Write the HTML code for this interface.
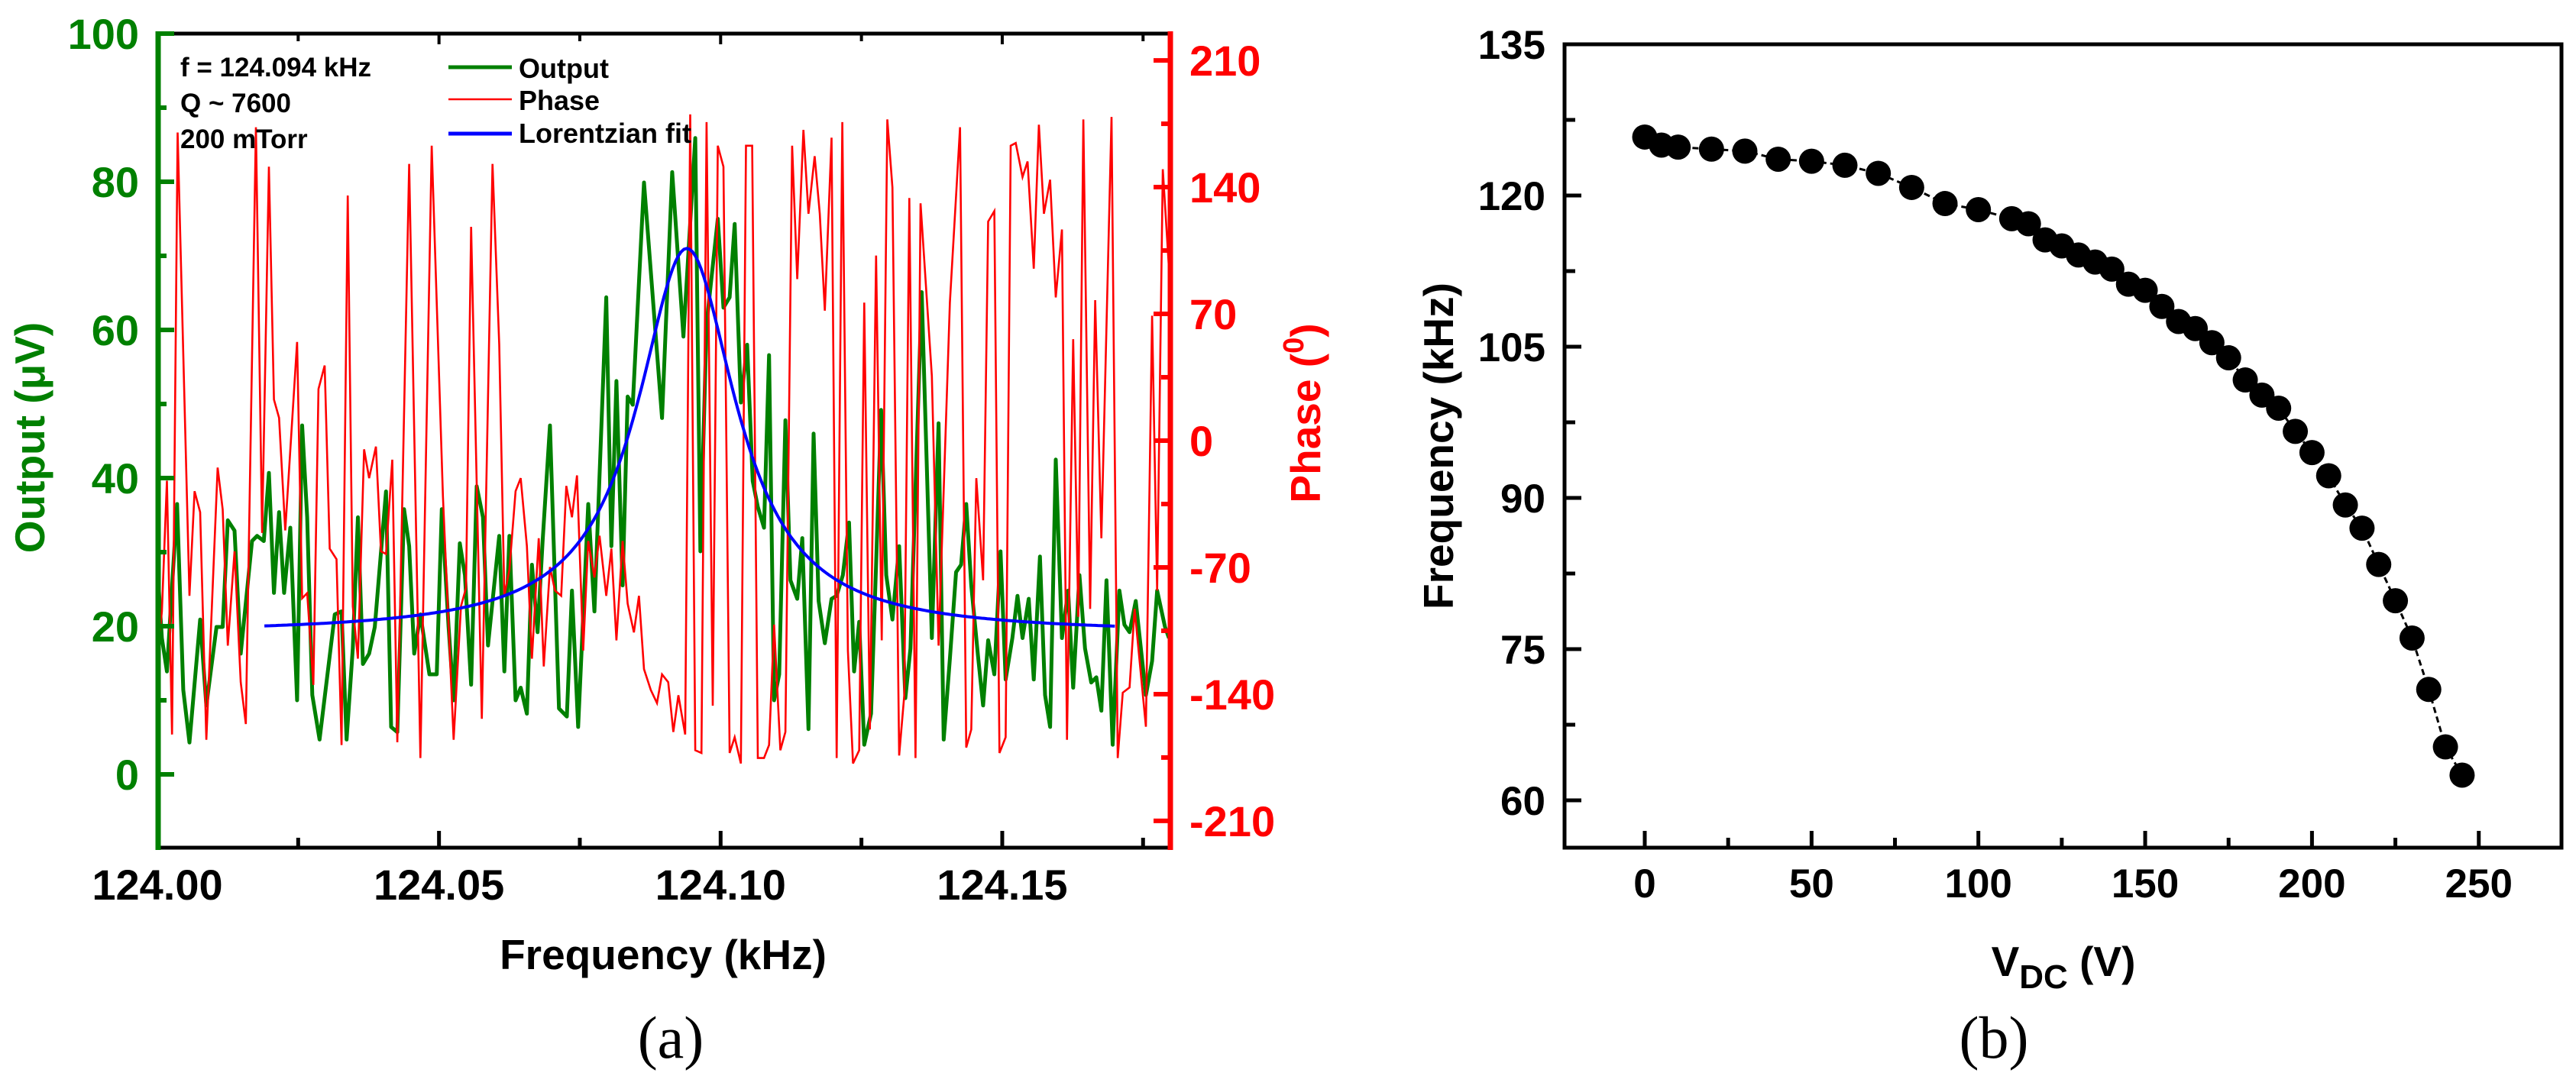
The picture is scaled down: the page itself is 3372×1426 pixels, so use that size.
<!DOCTYPE html>
<html><head><meta charset="utf-8">
<style>
html,body{margin:0;padding:0;background:#fff;}
svg{display:block;font-family:"Liberation Sans",Arial,sans-serif;}
</style></head>
<body>
<svg id="fig" width="3372" height="1426" viewBox="0 0 3372 1426" xmlns="http://www.w3.org/2000/svg">
  <defs>
    <clipPath id="clipA"><rect x="206" y="44" width="1326" height="1066"/></clipPath>
  </defs>
  <g id="panelA"></g>
  <g id="panelB"></g>
  <text x="878" y="1385" text-anchor="middle" font-family="Liberation Serif, serif" font-size="78">(a)</text>
  <text x="2610" y="1385" text-anchor="middle" font-family="Liberation Serif, serif" font-size="78">(b)</text>
</svg>
<script>
// ---------- Panel (a) data ----------
const outFreqOffsetHz = [0,0.8,1.7,3.5,4.6,5.7,7.6,8.7,10.5,11.6,12.5,13.7,14.8,16.8,17.7,18.9,19.8,20.7,21.6,22.5,23.6,24.8,25.7,26.6,27.5,28.8,31.5,32.7,33.6,34.7,35.6,36.5,37.6,38.6,40.6,41.5,42.6,43.8,44.7,45.6,46.7,48.3,49.6,50.5,51.7,52.6,53.7,54.6,55.7,56.7,57.8,58.7,
60.7,61.6,62.5,63.6,64.5,65.6,66.5,67.5,68.4,69.7,71.3,72.7,73.6,74.7,76.5,77.6,79.7,80.6,81.5,82.6,83.5,84.4,86.4,89.6,91.4,93.4,95.5,96.4,97.5,99.5,100.5,101.6,102.5,103.6,104.7,105.7,106.6,107.7,108.6,109.5,110.4,111.5,112.4,113.6,114.5,115.6,116.5,117.4,118.5,
119.7,120.6,121.7,122.8,123.7,124.6,125.5,126.7,127.6,128.5,129.4,130.5,131.7,132.8,133.7,135.7,137.5,138.7,139.6,140.7,141.8,142.7,143.6,144.5,145.7,146.6,147.5,148.6,149.7,150.6,151.8,152.7,153.6,154.7,155.6,156.7,157.6,158.5,159.5,160.6,161.7,162.6,163.7,164.7,165.8,166.7,167.6,168.5,169.6,170.8,171.7,172.6,173.7,175.5,176.6,177.5,178.9,179.6];
const outValues = [28,18.4,13.9,36.5,11.4,4.3,20.9,9.3,19.9,19.9,34.3,32.9,16.3,31.5,32.2,31.5,40.7,24.5,35.4,24.5,33.3,10.0,47.1,34.7,10.7,4.7,21.6,22.0,4.7,17.0,34.7,14.9,16.3,19.9,38.2,6.4,5.7,35.8,30.8,16.3,21.6,13.5,13.5,35.8,19.9,10.0,31.2,26.9,12.1,38.9,34.7,17.4,
32.2,13.9,32.2,10.0,11.7,8.2,28.3,19.2,31.5,47.1,8.9,7.8,24.8,6.4,36.5,22.0,64.4,30.8,53.1,25.5,51.0,49.9,79.9,48.1,81.3,59.1,85.9,30.1,60.8,75.0,63.0,64.4,74.3,50.2,58.0,39.6,36.1,33.3,56.6,10.0,13.5,47.8,26.2,23.7,31.9,6.1,46.0,23.4,17.7,
23.7,24.1,26.9,34.0,13.9,20.6,4.0,8.2,28.3,49.2,26.9,20.9,30.8,10.3,17.0,65.1,18.4,47.4,4.7,15.6,27.3,28.3,36.5,25.5,16.0,9.3,18.1,13.5,30.1,12.8,18.4,24.1,18.4,23.7,12.8,29.4,10.7,6.4,42.5,18.4,24.8,11.7,26.9,17.0,12.4,13.1,8.6,26.2,4.0,24.8,20.2,19.2,23.4,10.7,15.3,24.8,19.9,18.4];
const phaseFreqOffsetHz = [0,0.8,1.7,2.6,3.6,5.7,6.6,7.6,8.7,10.7,11.6,12.5,13.7,14.8,15.7,17.5,18.6,19.8,20.7,21.6,22.7,24.8,25.7,26.6,27.7,28.6,29.7,30.6,31.8,32.7,33.8,34.7,35.6,36.7,37.6,38.8,39.7,40.6,41.7,42.6,44.7,46.7,48.7,50.7,52.6,53.9,54.8,55.7,57.6,
59.5,60.7,61.6,62.5,63.6,64.5,65.6,66.5,67.7,68.6,69.7,70.6,71.7,72.6,73.6,74.5,75.6,76.5,77.6,78.5,79.7,80.6,81.5,82.6,83.5,84.6,85.5,86.4,87.6,88.7,89.6,90.7,91.6,92.5,93.7,94.6,95.5,96.6,97.5,98.6,99.5,100.5,101.6,102.5,103.6,104.5,105.6,106.6,107.7,108.6,109.5,110.6,111.5,112.7,113.6,114.7,115.6,116.7,117.6,118.5,119.7,
120.6,121.6,122.6,123.5,124.6,125.5,126.5,127.6,128.6,129.6,130.5,131.7,132.6,133.5,134.6,135.5,137.5,138.7,140.7,142.5,143.6,144.5,145.4,146.6,147.5,148.6,149.5,150.6,151.5,152.4,153.6,154.5,155.6,156.5,157.4,158.5,159.5,160.6,161.5,162.6,163.5,164.4,165.6,166.5,167.6,169.4,170.5,171.4,172.6,173.5,175.5,176.6,177.5,178.5,179.6];
const phaseValues = [-120,-94.4,-22.1,-162.3,170.2,-85.7,-27.9,-39.5,-165.2,-14.9,-38.0,-113.2,-61.1,-133.4,-156.5,173.1,-51.0,151.3,22.7,12.6,-49.6,54.5,-87.1,-84.2,-134.9,28.5,41.5,-59.7,-65.5,-168.1,135.4,-91.5,-120.4,-4.8,-20.7,-3.3,-61.1,-62.6,-10.5,-166.6,152.8,-175.3,162.9,-30.8,-165.2,-91.5,-81.3,118.1,-153.6,
152.8,53.0,-85.7,-71.3,-27.9,-20.7,-58.2,-120.4,-53.9,-124.7,-69.8,-82.8,-85.7,-25.0,-42.3,-19.2,-116.0,-55.4,-75.6,-52.5,-85.7,-59.7,-110.3,-55.4,-90.0,-105.9,-85.7,-126.2,-137.7,-144.9,-129.1,-133.4,-160.9,-140.6,-162.3,180.2,-171.0,-172.5,175.9,-146.4,162.9,151.3,-172.5,-163.8,-178.3,162.9,162.9,-175.3,-175.3,-168.1,-101.6,-171.0,-160.9,162.9,89.2,171.6,125.3,157.1,125.3,71.8,167.3,
-175.3,175.9,-116.0,-178.3,-171.0,76.2,-159.5,102.2,-110.3,177.4,139.8,-173.9,-140.6,134.0,-175.3,131.1,35.7,-113.2,76.2,173.1,-169.5,-159.5,-20.7,-77.1,121.0,126.8,-172.5,-163.8,162.9,164.4,145.6,154.2,95.0,174.5,125.3,144.1,79.1,116.6,-165.2,56.0,-97.3,177.4,-92.9,77.6,-53.9,178.8,-175.3,-139.2,-136.3,-92.9,-158.0,69.0,-82.8,149.9,95.0];
// Lorentzian fit parameters: centre kHz, HWHM kHz, amplitude, baseline, start/end kHz
const fitCenter = [124.094];
const fitHalfWidth = [0.0107];
const fitAmplitude = [52];
const fitBaseline = [19];
const fitRange = [124.019, 124.170];
const outTicks = [0,20,40,60,80,100];
const outMinorTicks = [10,30,50,70,90];
const freqTicks = [124.00,124.05,124.10,124.15];
const freqTickLabels = ["124.00","124.05","124.10","124.15"];
const freqMinorTicks = [124.025,124.075,124.125,124.175];
const phaseTicks = [-210,-140,-70,0,70,140,210];
const phaseMinorTicks = [-175,-105,-35,35,105,175];

// ---------- Panel (b) data ----------
const vdcValues = [0,5,10,20,30,40,50,60,70,80,90,100,110,115,120,125,130,135,140,145,150,155,160,165,170,175,180,185,190,195,200,205,210,215,220,225,230,235,240,245];
const resFreqValues = [125.8,125.0,124.8,124.6,124.4,123.6,123.4,123.0,122.2,120.8,119.2,118.6,117.7,117.2,115.6,115.0,114.1,113.4,112.7,111.2,110.6,109.0,107.5,106.8,105.4,103.9,101.7,100.2,98.9,96.6,94.5,92.2,89.3,87.0,83.4,79.8,76.1,71.0,65.3,62.5];
const vdcTicks = [0,50,100,150,200,250];
const vdcMinorTicks = [25,75,125,175,225];
const resTicks = [60,75,90,105,120,135];
const resMinorTicks = [67.5,82.5,97.5,112.5,127.5];

const NS = "http://www.w3.org/2000/svg";
function mk(parent, tag, attrs, txt){
  const e = document.createElementNS(NS, tag);
  for (const k in attrs) e.setAttribute(k, attrs[k]);
  if (txt !== undefined) e.textContent = txt;
  parent.appendChild(e);
  return e;
}
// Axis functions panel (a)
const fx = f => 206 + (f - 124) * 7373;
const oy = v => 1014 - v * 9.7;
const py = p => 577 - p * 2.371;
// Axis functions panel (b)
const vx = v => 2153 + v * 4.367;
const fy = f => 58 + (135 - f) * 13.2;

const A = document.getElementById('panelA');
const B = document.getElementById('panelB');
const GREEN = '#008000', RED = '#ff0000', BLUE = '#0000ff';

// ---- Panel A series ----
const plotA = mk(A, 'g', {'clip-path':'url(#clipA)'});



let gp = outValues.map((v,i)=> (i?'L':'M') + fx(124 + outFreqOffsetHz[i]/1000).toFixed(1) + ',' + oy(v).toFixed(1)).join('');
const outLine = mk(plotA, 'path', {d: gp, fill:'none', stroke:GREEN, 'stroke-width':5, 'stroke-linejoin':'round'});



let rp = phaseValues.map((v,i)=> (i?'L':'M') + fx(124 + phaseFreqOffsetHz[i]/1000).toFixed(1) + ',' + py(v).toFixed(1)).join('');
const phLine = mk(plotA, 'path', {d: rp, fill:'none', stroke:RED, 'stroke-width':2.6, 'stroke-linejoin':'miter'});



let bp = '';
for (let k = 0; k <= 300; k++) {
  const f = fitRange[0] + (fitRange[1] - fitRange[0]) * k / 300;
  const d = f - fitCenter[0];
  const v = fitBaseline[0] + fitAmplitude[0] * fitHalfWidth[0]*fitHalfWidth[0] / (d*d + fitHalfWidth[0]*fitHalfWidth[0]);
  bp += (k?'L':'M') + fx(f).toFixed(1) + ',' + oy(v).toFixed(1);
}
const fitLine = mk(plotA, 'path', {d: bp, fill:'none', stroke:BLUE, 'stroke-width':4});



// ---- Panel A axes ----
const topAx = mk(A, 'line', {x1:206, y1:44, x2:1532, y2:44, stroke:'#000', 'stroke-width':5});


const botAx = mk(A, 'line', {x1:206, y1:1110, x2:1532, y2:1110, stroke:'#000', 'stroke-width':5});


freqTicks.forEach((t,i)=>{
  const x = fx(t);
  const tk = mk(A, 'line', {x1:x, y1:1110, x2:x, y2:1088, stroke:'#000', 'stroke-width':5});
  
  
  const tt = mk(A, 'line', {x1:x, y1:44, x2:x, y2:58, stroke:'#000', 'stroke-width':4});
  
  
  const lb = mk(A, 'text', {x:x, y:1178, 'text-anchor':'middle', 'font-size':56, 'font-weight':'bold', fill:'#000'}, freqTickLabels[i]);
  
  
});
freqMinorTicks.forEach(t=>{
  const x = fx(t);
  const tk = mk(A, 'line', {x1:x, y1:1110, x2:x, y2:1097, stroke:'#000', 'stroke-width':5});
  
  
  const tt = mk(A, 'line', {x1:x, y1:44, x2:x, y2:54, stroke:'#000', 'stroke-width':4});
  
  
});
const leftAx = mk(A, 'line', {x1:207, y1:41, x2:207, y2:1113, stroke:GREEN, 'stroke-width':7});


outTicks.forEach(t=>{
  const y = oy(t);
  const tk = mk(A, 'line', {x1:207, y1:y, x2:228, y2:y, stroke:GREEN, 'stroke-width':6});
  
  
  const lb = mk(A, 'text', {x:182, y:y+20, 'text-anchor':'end', 'font-size':56, 'font-weight':'bold', fill:GREEN}, String(t));
  
  
});
outMinorTicks.forEach(t=>{
  const y = oy(t);
  const tk = mk(A, 'line', {x1:207, y1:y, x2:218, y2:y, stroke:GREEN, 'stroke-width':6});
  
  
});
const rightAx = mk(A, 'line', {x1:1532, y1:41, x2:1532, y2:1113, stroke:RED, 'stroke-width':7});


phaseTicks.forEach(t=>{
  const y = py(t);
  const tk = mk(A, 'line', {x1:1510, y1:y, x2:1532, y2:y, stroke:RED, 'stroke-width':6});
  
  
  const lb = mk(A, 'text', {x:1557, y:y+20, 'text-anchor':'start', 'font-size':56, 'font-weight':'bold', fill:RED}, String(t));
  
  
});
phaseMinorTicks.forEach(t=>{
  const y = py(t);
  const tk = mk(A, 'line', {x1:1520, y1:y, x2:1532, y2:y, stroke:RED, 'stroke-width':6});
  
  
});
// titles
const xtA = mk(A, 'text', {x:868, y:1269, 'text-anchor':'middle', 'font-size':55, 'font-weight':'bold', fill:'#000'}, 'Frequency (kHz)');


const ytA = mk(A, 'text', {x:0, y:0, transform:'translate(58,573) rotate(-90)', 'text-anchor':'middle', 'font-size':55, 'font-weight':'bold', fill:GREEN}, 'Output (\u03BCV)');


const ptA = mk(A, 'text', {x:0, y:0, transform:'translate(1728,541) rotate(-90)', 'text-anchor':'middle', 'font-size':55, 'font-weight':'bold', fill:RED});


mk(ptA, 'tspan', {}, 'Phase (');
mk(ptA, 'tspan', {dy:-22, 'font-size':38}, '0');
mk(ptA, 'tspan', {dy:22}, ')');
// annotation
['f = 124.094 kHz','Q ~ 7600','200 mTorr'].forEach((s,i)=>{
  const t = mk(A, 'text', {x:236, y:[100,147,194][i], 'font-size':35, 'font-weight':'bold', fill:'#000'}, s);
  
  
});
// legend
const legend = mk(A, 'g', {});


[['Output',GREEN,5,88,102],['Phase',RED,2.6,130,144],['Lorentzian fit',BLUE,5,175,187]].forEach(e=>{
  const l = mk(legend, 'line', {x1:587, y1:e[3], x2:670, y2:e[3], stroke:e[1], 'stroke-width':e[2]});
  
  
  const t = mk(legend, 'text', {x:679, y:e[4], 'font-size':36, 'font-weight':'bold', fill:'#000'}, e[0]);
  
  
});

// ---- Panel B ----
const frame = mk(B, 'rect', {x:2048, y:58, width:1305, height:1052, fill:'none', stroke:'#000', 'stroke-width':5});


vdcTicks.forEach(t=>{
  const x = vx(t);
  const tk = mk(B, 'line', {x1:x, y1:1110, x2:x, y2:1088, stroke:'#000', 'stroke-width':5});
  
  
  const lb = mk(B, 'text', {x:x, y:1175, 'text-anchor':'middle', 'font-size':53, 'font-weight':'bold', fill:'#000'}, String(t));
  
  
});
vdcMinorTicks.forEach(t=>{
  const x = vx(t);
  const tk = mk(B, 'line', {x1:x, y1:1110, x2:x, y2:1097, stroke:'#000', 'stroke-width':5});
  
  
});
resTicks.forEach(t=>{
  const y = fy(t);
  const tk = mk(B, 'line', {x1:2048, y1:y, x2:2070, y2:y, stroke:'#000', 'stroke-width':5});
  
  
  const lb = mk(B, 'text', {x:2023, y:y+19, 'text-anchor':'end', 'font-size':53, 'font-weight':'bold', fill:'#000'}, String(t));
  
  
});
resMinorTicks.forEach(t=>{
  const y = fy(t);
  const tk = mk(B, 'line', {x1:2048, y1:y, x2:2062, y2:y, stroke:'#000', 'stroke-width':5});
  
  
});
let dp = vdcValues.map((v,i)=> (i?'L':'M') + vx(v).toFixed(1) + ',' + fy(resFreqValues[i]).toFixed(1)).join('');
const conn = mk(B, 'path', {d: dp, fill:'none', stroke:'#000', 'stroke-width':3, 'stroke-dasharray':'8,5'});


vdcValues.forEach((v,i)=>{
  const c = mk(B, 'circle', {cx:vx(v), cy:fy(resFreqValues[i]), r:16.5, fill:'#000'});
  
  
});
const ytB = mk(B, 'text', {x:0, y:0, transform:'translate(1902,584) rotate(-90)', 'text-anchor':'middle', 'font-size':55, 'font-weight':'bold', fill:'#000'}, 'Frequency (kHz)');


const xtB = mk(B, 'text', {x:2701, y:1278, 'text-anchor':'middle', 'font-size':55, 'font-weight':'bold', fill:'#000'});


mk(xtB, 'tspan', {}, 'V');
mk(xtB, 'tspan', {dy:16, 'font-size':44}, 'DC');
mk(xtB, 'tspan', {dy:-16}, ' (V)');
</script>
</body></html>
